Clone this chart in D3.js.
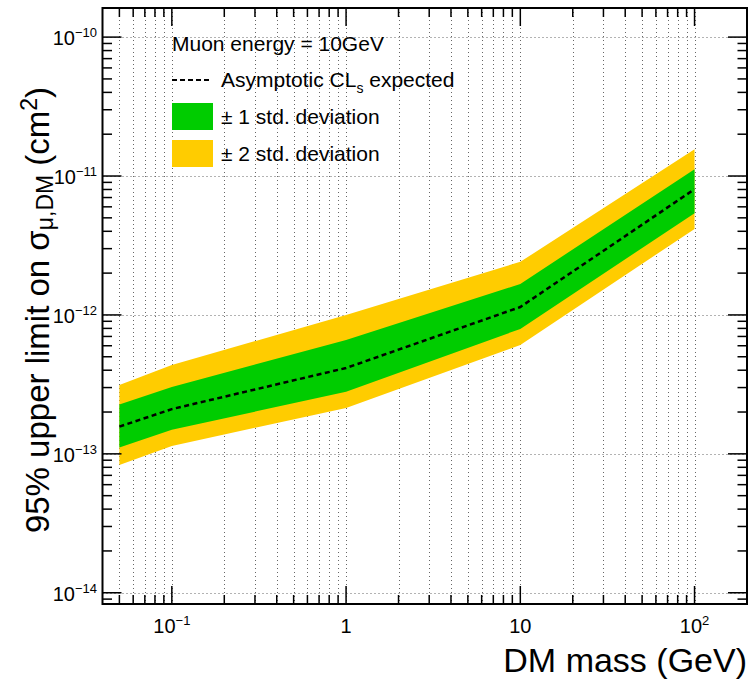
<!DOCTYPE html>
<html><head><meta charset="utf-8">
<script src="https://cdn.jsdelivr.net/npm/d3@7"></script>
<style>body{margin:0;background:#fff}svg{display:block}text{font-family:"Liberation Sans",Arial,Helvetica,sans-serif;fill:#000}</style>
</head><body>
<script>
const mass = [0.05, 0.1, 1, 10, 100];
const expected = [1.57e-13, 2.10e-13, 4.15e-13, 1.14e-12, 8.04e-12];
const sigma1Up = [2.27e-13, 3.03e-13, 6.6e-13, 1.67e-12, 1.12e-11];
const sigma1Down = [1.11e-13, 1.49e-13, 2.8e-13, 7.93e-13, 5.4e-12];
const sigma2Up = [3.13e-13, 4.36e-13, 1.0e-12, 2.41e-12, 1.56e-11];
const sigma2Down = [8.3e-14, 1.14e-13, 2.14e-13, 6.08e-13, 4.16e-12];
const xMajor = [0.1, 1, 10, 100];
const xTickLabels = [["10","−1"], ["1",""], ["10",""], ["10","2"]];
const yMajor = [1e-14, 1e-13, 1e-12, 1e-11, 1e-10];
const yTickLabels = [["10","−14"], ["10","−13"], ["10","−12"], ["10","−11"], ["10","−10"]];
const legendItems = ["Muon energy = 10GeV", "Asymptotic CL", "± 1 std. deviation", "± 2 std. deviation"];

const W = 752, H = 681;
const L = 102.5, R = 747, T = 8, B = 604;
const svg = d3.select("body").append("svg").attr("width", W).attr("height", H);
const x = d3.scaleLog().domain([0.04, 200]).range([L, R]);
const y = d3.scaleLog().domain([8.3e-15, 1.62e-10]).range([B, T]);

const xMinor = [];
[0.01, 0.1, 1, 10, 100].forEach(d => { for (let k = 2; k <= 9; k++) { const v = d * k; if (v > 0.0401 && v < 199) xMinor.push(v); } });
const yMinor = [];
[1e-15, 1e-14, 1e-13, 1e-12, 1e-11, 1e-10].forEach(d => { for (let k = 2; k <= 9; k++) { const v = d * k; if (v > 8.31e-15 && v < 1.61e-10) yMinor.push(v); } });

// grid
const grid = svg.append("g").attr("stroke", "#666").attr("stroke-width", 1).attr("stroke-dasharray", "1,3");
grid.selectAll("line.gx").data(xMajor.concat(xMinor)).join("line")
  .attr("x1", d => Math.round(x(d)) + 0.5).attr("x2", d => Math.round(x(d)) + 0.5).attr("y1", T).attr("y2", B);
grid.selectAll("line.gy").data(yMajor).join("line")
  .attr("y1", d => Math.round(y(d)) + 0.5).attr("y2", d => Math.round(y(d)) + 0.5).attr("x1", L).attr("x2", R);

// bands
const idx = d3.range(mass.length);
const area = (lo, hi) => d3.area().x(i => x(mass[i])).y0(i => y(lo[i])).y1(i => y(hi[i]))(idx);
svg.append("path").attr("d", area(sigma2Down, sigma2Up)).attr("fill", "#ffcc00");
svg.append("path").attr("d", area(sigma1Down, sigma1Up)).attr("fill", "#00cc00");
svg.append("path").attr("d", d3.line().x(i => x(mass[i])).y(i => y(expected[i]))(idx))
  .attr("fill", "none").attr("stroke", "#000").attr("stroke-width", 2.5).attr("stroke-dasharray", "5,3.5");

// ticks
const tk = svg.append("g").attr("stroke", "#000").attr("stroke-width", 1.5);
const xMajLen = 18, xMinLen = 9, yMajLen = 19, yMinLen = 9.5;
xMajor.concat(xMinor).forEach(d => {
  const len = xMajor.includes(d) ? xMajLen : xMinLen;
  tk.append("line").attr("x1", x(d)).attr("x2", x(d)).attr("y1", B).attr("y2", B - len);
  tk.append("line").attr("x1", x(d)).attr("x2", x(d)).attr("y1", T).attr("y2", T + len);
});
yMajor.concat(yMinor).forEach(d => {
  const len = yMajor.includes(d) ? yMajLen : yMinLen;
  tk.append("line").attr("y1", y(d)).attr("y2", y(d)).attr("x1", L).attr("x2", L + len);
  tk.append("line").attr("y1", y(d)).attr("y2", y(d)).attr("x1", R).attr("x2", R - len);
});
svg.append("rect").attr("x", L).attr("y", T).attr("width", R - L).attr("height", B - T)
  .attr("fill", "none").attr("stroke", "#000").attr("stroke-width", 2);

// tick labels
xMajor.forEach((d, i) => {
  const t = svg.append("text").attr("x", x(d)).attr("y", 633).attr("text-anchor", "middle").attr("font-size", 20);
  t.append("tspan").text(xTickLabels[i][0]);
  if (xTickLabels[i][1]) t.append("tspan").attr("dy", -8).attr("font-size", 13).text(xTickLabels[i][1]);
});
yMajor.forEach((d, i) => {
  const t = svg.append("text").attr("x", 97).attr("y", y(d) + 8).attr("text-anchor", "end").attr("font-size", 20);
  t.append("tspan").text(yTickLabels[i][0]);
  t.append("tspan").attr("dy", -8).attr("font-size", 13).text(yTickLabels[i][1]);
});

// axis titles
svg.append("text").attr("x", R).attr("y", 672).attr("text-anchor", "end").attr("font-size", 34).text("DM mass (GeV)");
const yt = svg.append("text").attr("transform", `translate(49,${(T + B) / 2 + 4}) rotate(-90)`)
  .attr("text-anchor", "middle").attr("font-size", 33);
yt.append("tspan").text("95% upper limit on σ");
yt.append("tspan").attr("font-size", 23).attr("dy", 4).text("μ,DM");
yt.append("tspan").attr("dy", -4).text(" (cm");
yt.append("tspan").attr("font-size", 23).attr("dy", -12).text("2");
yt.append("tspan").attr("dy", 12).text(")");

// legend
const lg = svg.append("g");
lg.append("text").attr("x", 172).attr("y", 51).attr("font-size", 21).text(legendItems[0]);
lg.append("line").attr("x1", 172).attr("x2", 210).attr("y1", 80).attr("y2", 80)
  .attr("stroke", "#000").attr("stroke-width", 2).attr("stroke-dasharray", "5,3");
const t2 = lg.append("text").attr("x", 221).attr("y", 87).attr("font-size", 21);
t2.append("tspan").text(legendItems[1]);
t2.append("tspan").attr("font-size", 14).attr("dy", 6).text("s");
t2.append("tspan").attr("dy", -6).text(" expected");
lg.append("rect").attr("x", 172).attr("y", 103).attr("width", 41).attr("height", 27).attr("fill", "#00cc00");
lg.append("text").attr("x", 221).attr("y", 124).attr("font-size", 21).text(legendItems[2]);
lg.append("rect").attr("x", 172).attr("y", 140).attr("width", 41).attr("height", 27).attr("fill", "#ffcc00");
lg.append("text").attr("x", 221).attr("y", 161).attr("font-size", 21).text(legendItems[3]);
</script>
</body></html>
